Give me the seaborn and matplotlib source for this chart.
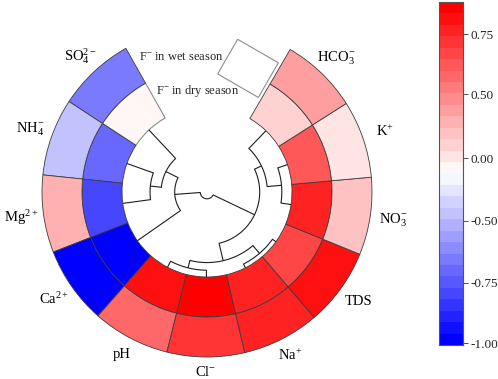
import numpy as np
import matplotlib
matplotlib.use("Agg")
import matplotlib.pyplot as plt
from matplotlib.colors import ListedColormap
from matplotlib.patches import Rectangle
import seaborn as sns

# ---------------- data ----------------
ring_labels = ["SO$_4^{2-}$", "NH$_4^{-}$", "Mg$^{2+}$", "Ca$^{2+}$", "pH", "Cl$^{-}$",
               "Na$^{+}$", "TDS", "NO$_3^{-}$", "K$^{+}$", "HCO$_3^{-}$"]
# outer ring (wet season), slot order as the labels
wet_values = [-0.65, -0.41, 0.28, -1.00, 0.58, 0.70, 0.75, 0.85, 0.18, 0.01, 0.38]
# inner ring (dry season), slot 0 is F- in dry season
dry_values = [-0.05, -0.70, -0.81, -1.00, 0.90, 1.00, 0.75, 0.66, 0.80, 0.60, 0.10]
f_wet_value = np.nan
f_wet_label = "F$^{-}$ in wet season"
f_dry_label = "F$^{-}$ in dry season"
# dendrogram of the inner ring leaves: (child a, child b, height), scipy-style ids
merges = [(6, 7, 0.05), (4, 5, 0.08), (8, 9, 0.12), (12, 11, 0.17), (13, 10, 0.29),
          (1, 2, 0.33), (14, 15, 0.38), (0, 16, 0.46), (18, 3, 0.62), (19, 17, 0.92)]
cbar_tick_values = [-1.00, -0.75, -0.50, 0.00, 0.50, 0.75]
cbar_tick_labels = ["-1.00", "-0.75", "-0.50", "0.00", "0.50", "0.75"]

# ---------------- style / layout ----------------
sns.set_style("white")
plt.rcParams["font.family"] = ["Liberation Serif", "DejaVu Serif"]
plt.rcParams["mathtext.fontset"] = "custom"
plt.rcParams["mathtext.rm"] = "Liberation Serif"
plt.rcParams["mathtext.it"] = "Liberation Serif:italic"
plt.rcParams["mathtext.bf"] = "Liberation Serif:bold"

W, H = 498, 379
CX, CY = 207, 192
RMAX = 170
SLOT = 27.3
START = 133.1
R_IN, R_MID, R_OUT = 85, 125, 165
LABEL_R0, LABEL_RX = 180, 8
FS = 10.5
FS_F = 9
EDGE = "#3c3c3c"
GREY = "#8c8c8c"
LINE = "#1e1e1e"
cbar_pos_frac = [0.005, 0.182, 0.362, 0.544, 0.731, 0.906]
N_BANDS = 30

palette = sns.blend_palette(["#0000ff", "#ffffff", "#ff0000"], n_colors=N_BANDS)
cmap = ListedColormap(palette)
knot_v = cbar_tick_values + [1.0]
knot_f = cbar_pos_frac + [1.0]


def to_color(v):
    if v is None or np.isnan(v):
        return (1, 1, 1, 1)
    f = float(np.interp(v, knot_v, knot_f))
    return cmap(min(max(f, 0.0), 0.9999))


fig = plt.figure(figsize=(W / 100, H / 100), dpi=100)
rect = [(CX - RMAX) / W, (H - CY - RMAX) / H, 2 * RMAX / W, 2 * RMAX / H]
ax = fig.add_axes(rect, projection="polar")

theta_deg = START + SLOT * np.arange(len(ring_labels))
theta = np.deg2rad(theta_deg)
width = np.deg2rad(SLOT)

# inner ring: F- dry first (grey outline), then others
ax.bar(theta[0], R_MID - R_IN, width=width, bottom=R_IN, color=to_color(dry_values[0]),
       edgecolor=GREY, linewidth=0.8)
ax.bar(theta[1:], R_MID - R_IN, width=width, bottom=R_IN,
       color=[to_color(v) for v in dry_values[1:]], edgecolor=EDGE, linewidth=0.6)
# outer ring
ax.bar(theta, R_OUT - R_MID, width=width, bottom=R_MID,
       color=[to_color(v) for v in wet_values], edgecolor=EDGE, linewidth=0.6)

# labels
for t, lab in zip(theta, ring_labels):
    r = LABEL_R0 + LABEL_RX * abs(np.cos(t))
    ax.text(t, r, lab, ha="center", va="center", fontsize=FS, color="black")

# dendrogram
node_t = list(theta_deg)
node_r = [R_IN] * len(theta_deg)
for a, b, h in merges:
    r = R_IN * (1 - h)
    ta, tb = node_t[a], node_t[b]
    for t, r0 in ((ta, node_r[a]), (tb, node_r[b])):
        ax.plot(np.deg2rad([t, t]), [r0, r], color=LINE, lw=0.8, solid_capstyle="butt")
    arc = np.deg2rad(np.linspace(ta, tb, 80))
    ax.plot(arc, np.full(arc.size, r), color=LINE, lw=0.8)
    node_t.append((ta + tb) / 2)
    node_r.append(r)

ax.set_ylim(0, RMAX)
ax.set_axis_off()

# overlay for the detached F- wet cell and F- labels
ov = fig.add_axes(rect)
ov.set_xlim(-RMAX, RMAX)
ov.set_ylim(-RMAX, RMAX)
ov.set_axis_off()
ov.patch.set_alpha(0)
a0 = np.deg2rad(61.5)
ov.add_patch(Rectangle((107.6 * np.cos(a0), 107.6 * np.sin(a0)), 40, 47, angle=60,
                       facecolor=to_color(f_wet_value), edgecolor=GREY, linewidth=0.8))
ov.text(-68, 134.5, f_wet_label, ha="left", va="center", fontsize=FS_F)
ov.text(-51, 101, f_dry_label, ha="left", va="center", fontsize=FS_F)

# colour bar drawn with seaborn heatmap
cax = fig.add_axes([439 / W, 34 / H, 24 / W, 343 / H])
bands = np.arange(N_BANDS)[::-1].reshape(-1, 1)
sns.heatmap(bands, cmap=cmap, vmin=-0.5, vmax=N_BANDS - 0.5, cbar=False, ax=cax,
            xticklabels=False, yticklabels=False)
cax.set_yticks([N_BANDS * (1 - f) for f in cbar_pos_frac])
cax.set_yticklabels(cbar_tick_labels, rotation=0)
cax.yaxis.tick_right()
cax.tick_params(axis="y", right=True, left=False, length=3.6, width=0.6, color="#333333",
                labelsize=9.5, pad=2)
cax.set_xticks([])
for s in cax.spines.values():
    s.set_visible(True)
    s.set_color("#555555")
    s.set_linewidth(0.8)

fig.savefig("out.png", dpi=100)
